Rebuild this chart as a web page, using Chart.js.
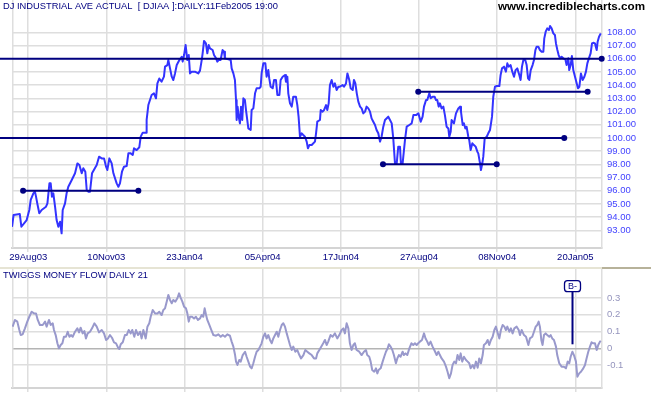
<!DOCTYPE html>
<html lang="en">
<head>
<meta charset="UTF-8">
<title>DJ Industrial Ave - Twiggs Money Flow</title>
<script src="https://cdn.jsdelivr.net/npm/chart.js"></script>
<style>
  body { margin: 0; background: #fff; }
  #wrap { position: relative; width: 651px; height: 395px; overflow: hidden; }
  canvas { position: absolute; left: 0; }
  #priceChart { top: 0; }
  #flowChart { top: 267px; }
</style>
</head>
<body>
<div id="wrap">
  <canvas id="priceChart" width="651" height="267"></canvas>
  <canvas id="flowChart" width="651" height="128"></canvas>
</div>
<script>
// x values are trading days counted from mid Aug 2003
const chartTitle = 'DJ INDUSTRIAL AVE ACTUAL  [ DJIAA ]:DAILY:11Feb2005 19:00';
const siteName = 'www.incrediblecharts.com';
const flowTitle = 'TWIGGS MONEY FLOW DAILY 21';

const tickDays = [10.4, 60.5, 110.6, 160.7, 210.8, 260.9, 311, 361.1];
const tickLabels = ['29Aug03', '10Nov03', '23Jan04', '05Apr04', '17Jun04', '27Aug04', '08Nov04', '20Jan05'];
const priceTicks = [93, 94, 95, 96, 97, 98, 99, 100, 101, 102, 103, 104, 105, 106, 107, 108];
const flowTicks = [-0.1, 0, 0.1, 0.2, 0.3];

// [day, close]
const priceSeries = [
  [0, 93.27], [1, 94.16], [5, 94.23], [6, 93.27], [9.4, 93.78], [11.1, 94.54], [12, 95.3], [13.7, 95.8],
  [14.7, 95.93], [15.4, 95.55], [16.2, 95.04], [17.5, 94.29], [19, 94.54], [21.8, 94.79], [22.7, 95.04],
  [24, 96.56], [24.8, 96.56], [25.6, 95.55], [26.5, 95.8], [27.6, 94.79], [28.6, 93.78], [29.7, 93.27],
  [30.8, 93.65], [31.8, 92.77], [32.5, 94.54], [34, 95.04], [35, 95.8], [36.1, 96.3], [38.3, 96.81],
  [40.4, 97.32], [41.9, 98.07], [43.2, 97.95], [44.7, 97.32], [45.7, 97.7], [47, 97.44], [47.9, 96.05],
  [49, 95.93], [50, 95.93], [51.3, 97.32], [54.3, 97.95], [55.8, 98.58], [57.5, 98.45], [59, 98.45],
  [60.3, 97.82], [61.1, 97.57], [62.4, 98.45], [63.9, 98.07], [65, 97.32], [67.1, 96.56], [68.2, 96.3],
  [69.2, 96.56], [70.5, 97.44], [71.8, 97.82], [73.5, 97.87], [74.6, 98.83], [76.1, 98.83], [77.4, 98.71],
  [78.2, 99.21], [79.9, 99.08], [81.6, 99.29], [82.5, 100.1], [83.8, 100.4], [85.9, 100.4], [86.3, 101.36],
  [87.4, 102.49], [89.5, 103.25], [91, 103.38], [92.3, 103.0], [93.2, 104.13], [94.4, 104.5], [95.9, 104.26],
  [97.4, 104.64], [98.1, 105.4], [99.6, 105.52], [100.2, 105.9], [101.3, 105.27], [102.4, 104.64],
  [103.4, 104.39], [104.5, 104.89], [105.6, 105.52], [107.3, 105.9], [108.8, 106.15], [109.4, 105.78],
  [110.3, 106.28], [111.3, 107.04], [112.4, 105.9], [113.3, 106.28], [114.1, 104.89], [115.2, 105.02],
  [117.3, 105.02], [119.4, 104.89], [120.5, 105.1], [121.6, 105.9], [122.2, 106.41], [123.1, 107.35],
  [124.3, 107.16], [125.2, 106.41], [126.1, 107.04], [126.9, 106.79], [128.6, 106.66], [129.5, 106.28],
  [130.8, 106.03], [131.6, 105.78], [132.5, 105.9], [133.7, 105.9], [135, 106.66], [135.9, 106.53],
  [136.5, 106.03], [138.7, 105.95], [140.2, 105.9], [140.8, 105.27], [141.9, 104.89], [142.9, 104.39],
  [143.6, 102.87], [144, 101.36], [144.6, 102.37], [145.3, 101.61], [146.1, 101.1], [146.8, 102.37],
  [147.6, 101.36], [148.3, 103.0], [149.3, 102.87], [150, 102.11], [150.8, 101.36], [151.5, 100.72],
  [153, 100.6], [153.6, 102.11], [154.7, 102.24], [155.8, 103.38], [156.8, 103.76], [158.5, 103.76],
  [159.4, 103.88], [160, 104.89], [161.1, 105.65], [162.4, 105.65], [163.2, 104.64], [164.3, 105.14],
  [164.9, 104.51], [165.8, 103.88], [167.1, 103.76], [168, 104.39], [169.2, 104.39], [170.1, 103.25],
  [171.4, 103.25], [172.2, 104.39], [173.5, 104.64], [175, 104.77], [175.6, 104.26], [176.5, 104.64],
  [177.1, 103.38], [178.2, 102.62], [179.3, 102.37], [180.3, 103.12], [182, 103.12], [182.9, 102.49],
  [183.7, 101.61], [184.6, 100.09], [185.7, 100.35], [186.7, 100.22], [187.8, 100.09], [188.9, 99.72],
  [189.7, 99.21], [190.6, 99.46], [192.1, 99.46], [194.2, 99.72], [194.9, 100.35], [195.7, 101.23],
  [197.4, 101.36], [197.9, 102.11], [199.1, 101.99], [200, 102.11], [201.3, 102.49], [202.1, 102.11],
  [203, 102.62], [203.8, 104.01], [204.9, 104.39], [206, 103.88], [207, 104.13], [208.1, 103.63],
  [209.2, 103.88], [210.2, 103.88], [211.9, 104.01], [212.8, 103.88], [214.1, 104.13], [215, 104.89],
  [216.2, 104.39], [217.1, 103.76], [218.4, 103.63], [219.2, 104.39], [220.1, 104.13], [221, 103.38],
  [222, 102.75], [223.1, 102.37], [224.1, 102.24], [225.2, 101.86], [226.3, 101.99], [227.3, 102.37],
  [228.4, 102.24], [229.5, 101.99], [230.5, 101.48], [231.6, 101.23], [232.7, 100.98], [233.7, 100.6],
  [234.8, 100.35], [235.9, 99.72], [236.9, 100.09], [238, 100.85], [239.1, 101.36], [241.2, 101.61],
  [242.3, 101.36], [243.4, 101.1], [244.4, 99.97], [245.5, 98.07], [246.6, 98.07], [247.6, 99.34],
  [248.7, 99.34], [249.3, 98.07], [250.4, 98.07], [251.9, 99.84], [253, 100.85], [254.7, 100.98],
  [256.2, 101.1], [257.3, 101.73], [259, 101.73], [260.5, 101.86], [262, 101.23], [263.2, 101.61],
  [264.1, 102.37], [265.4, 102.87], [266.2, 102.87], [267.5, 103.38], [268.4, 103.0], [269.6, 103.12],
  [270.9, 103.12], [271.8, 102.87], [272.6, 102.87], [273.5, 102.37], [274.3, 102.62], [275.4, 102.24],
  [276.5, 102.37], [277.5, 101.73], [278.6, 100.85], [279.7, 100.72], [280.3, 100.09], [281.2, 100.47],
  [281.8, 101.36], [283.3, 101.1], [284.6, 101.86], [286.1, 102.24], [287.2, 102.37], [287.8, 101.99],
  [288.9, 100.98], [289.7, 101.1], [290.6, 100.72], [291.4, 100.85], [292.5, 100.09], [293.1, 99.84],
  [294, 99.08], [295.1, 99.59], [296.1, 99.46], [297.2, 99.34], [298.3, 98.96], [298.9, 98.83],
  [300, 98.07], [300.6, 97.57], [301.5, 98.07], [302.1, 98.58], [303, 99.97], [304.3, 100.09],
  [305.3, 100.35], [306.4, 100.6], [307.7, 101.61], [308.5, 103.12], [309.6, 103.88], [310.7, 103.93],
  [312.4, 103.93], [313.2, 104.77], [314.1, 105.27], [315.4, 105.4], [316.6, 105.02], [317.5, 105.65],
  [318.4, 105.4], [319.6, 105.52], [320.7, 105.02], [321.8, 104.64], [322.8, 105.14], [323.9, 105.27],
  [325.2, 104.77], [326, 104.39], [326.9, 105.4], [327.8, 105.9], [329, 105.9], [329.9, 105.52],
  [330.8, 104.51], [331.6, 104.39], [332.5, 105.14], [333.7, 105.52], [334.6, 105.9], [335.5, 106.66],
  [336.3, 106.91], [337.4, 106.91], [338.4, 106.66], [339.5, 106.53], [340.6, 106.53], [341.2, 107.54],
  [342.1, 108.05], [343.1, 108.3], [344.2, 108.17], [344.9, 108.48], [345.9, 108.3], [347, 107.92],
  [348, 107.8], [348.7, 107.16], [349.6, 106.66], [350.4, 106.28], [351.3, 106.03], [352.3, 106.15],
  [353.4, 106.03], [354.7, 105.95], [355.5, 105.52], [356.6, 106.03], [357.2, 105.14], [358.1, 105.52],
  [358.9, 106.2], [359.8, 105.14], [360.9, 104.64], [362, 104.13], [362.8, 103.76], [363.7, 103.88],
  [364.7, 104.89], [365.8, 104.39], [366.9, 104.64], [367.9, 105.02], [368.8, 105.65], [369.8, 106.03],
  [370.9, 106.41], [371.8, 107.16], [372.6, 107.21], [373.7, 107.16], [374.8, 106.66], [375.4, 107.29],
  [376.3, 107.67], [377.4, 107.92]
];

// [day, money flow]
const flowSeries = [
  [0.4, 0.129], [1.9, 0.169], [3.4, 0.159], [4.7, 0.109], [5.6, 0.079], [6.8, 0.083], [8.3, 0.119],
  [9.8, 0.159], [11.1, 0.188], [12.6, 0.218], [14.1, 0.208], [15.4, 0.208], [16.5, 0.169], [17.9, 0.139],
  [19.7, 0.139], [21.2, 0.159], [22.2, 0.129], [23.7, 0.169], [24.8, 0.139], [26.1, 0.149], [26.9, 0.109],
  [28, 0.079], [29.1, 0.03], [30.1, 0.0], [31.2, 0.02], [32.3, 0.03], [33.3, 0.069], [34.6, 0.069],
  [35.7, 0.099], [36.8, 0.069], [37.8, 0.079], [38.9, 0.069], [40.4, 0.099], [41.9, 0.119], [43, 0.095],
  [44, 0.123], [45.3, 0.089], [46.4, 0.103], [47.4, 0.059], [48.5, 0.089], [50, 0.099], [51.3, 0.119],
  [52.8, 0.149], [54.3, 0.129], [55.8, 0.095], [57.5, 0.109], [59, 0.089], [60.3, 0.05], [61.5, 0.059],
  [62.8, 0.079], [64.1, 0.063], [65.4, 0.036], [66.7, 0.03], [68, 0.004], [68.8, -0.004], [69.7, 0.024],
  [71, 0.036], [72.4, 0.079], [73.5, 0.079], [74.8, 0.109], [76.1, 0.089], [77.1, 0.109], [78.4, 0.069],
  [79.5, 0.109], [80.8, 0.079], [82.1, 0.099], [83.1, 0.059], [84.2, 0.109], [85.7, 0.059], [86.8, 0.129],
  [88, 0.149], [88.9, 0.188], [90.2, 0.228], [91.7, 0.208], [93.2, 0.208], [94.4, 0.218], [95.9, 0.198],
  [97, 0.228], [98.1, 0.238], [99.2, 0.278], [100.2, 0.318], [101.3, 0.288], [102.4, 0.268], [103.4, 0.288],
  [104.7, 0.278], [106, 0.298], [107.1, 0.327], [108.1, 0.302], [109.2, 0.278], [110.3, 0.248],
  [111.5, 0.238], [112.4, 0.208], [113.3, 0.159], [114.1, 0.188], [115.4, 0.188], [116.7, 0.178],
  [117.9, 0.188], [119.2, 0.169], [120.5, 0.178], [121.6, 0.198], [122.6, 0.188], [123.5, 0.238],
  [124.4, 0.198], [125.2, 0.169], [126.5, 0.139], [127.8, 0.109], [129.1, 0.079], [130.8, 0.075],
  [132.3, 0.083], [133.8, 0.069], [135.1, 0.079], [136.5, 0.069], [138, 0.083], [139.7, 0.075],
  [140.8, 0.04], [141.9, 0.01], [143, -0.04], [143.6, -0.079], [144.5, -0.099], [145.7, -0.069],
  [146.6, -0.079], [147.9, -0.04], [149.4, -0.02], [150.4, -0.05], [151.5, -0.079], [152.6, -0.109],
  [153.6, -0.119], [154.7, -0.089], [155.8, -0.05], [156.8, -0.02], [157.9, -0.01], [159, 0.01],
  [160, 0.03], [161.1, 0.069], [162.2, 0.089], [163.2, 0.059], [164.3, 0.079], [165.4, 0.05],
  [166.5, 0.03], [167.5, 0.059], [168.6, 0.079], [169.7, 0.099], [170.7, 0.069], [171.8, 0.109],
  [172.9, 0.139], [173.9, 0.149], [175, 0.129], [176.1, 0.089], [177.3, 0.05], [178.2, 0.02],
  [179.3, -0.01], [180.3, 0.01], [181.6, -0.02], [182.9, -0.01], [184.2, -0.04], [185.3, -0.06],
  [186.8, -0.04], [188, -0.01], [189.3, -0.02], [190.6, -0.03], [192.1, -0.04], [193.6, -0.06],
  [194.9, -0.06], [195.7, -0.03], [197, -0.01], [199.5, 0.03], [200.6, 0.05], [201.7, 0.02],
  [202.7, 0.04], [204.2, 0.079], [205.5, 0.069], [207, 0.089], [208.5, 0.059], [209.8, 0.079],
  [211.3, 0.109], [212.4, 0.119], [213.4, 0.089], [214.5, 0.149], [215.6, 0.119], [216.6, 0.03],
  [217.7, -0.01], [218.8, 0.02], [219.8, 0.03], [220.9, -0.01], [222.6, -0.02], [224.1, -0.04],
  [225.6, -0.02], [226.9, -0.01], [227.7, -0.04], [229, -0.05], [229.9, -0.079], [230.9, -0.129],
  [232.2, -0.139], [233.3, -0.119], [234.2, -0.149], [235, -0.129], [236.3, -0.119], [237.6, -0.079],
  [238.6, -0.05], [239.7, -0.02], [240.8, 0.0], [241.6, 0.024], [242.7, 0.01], [243.8, -0.01],
  [244.8, -0.04], [246.1, -0.089], [247, -0.06], [248, -0.04], [249.1, -0.05], [250.4, -0.02],
  [251.2, -0.04], [252.3, -0.03], [253.4, -0.04], [254.7, 0.0], [256, 0.03], [257.2, 0.02], [258.3, 0.03],
  [259.4, 0.02], [260.4, 0.03], [261.5, 0.04], [262.8, 0.05], [264.1, 0.089], [265.1, 0.059],
  [266.2, 0.04], [267.1, 0.02], [268.3, 0.04], [269.6, 0.01], [270.7, -0.01], [272.2, -0.04],
  [273.3, -0.02], [274.3, -0.04], [275.4, -0.06], [276.9, -0.079], [278.2, -0.109], [279.2, -0.139],
  [280.3, -0.178], [281.4, -0.149], [282.4, -0.099], [283.5, -0.079], [284.6, -0.089], [285.6, -0.04],
  [286.7, -0.069], [287.6, -0.03], [288.6, -0.079], [289.7, -0.05], [291, -0.069], [292.1, -0.079],
  [293.1, -0.089], [294, -0.119], [295.3, -0.099], [296.3, -0.119], [297.4, -0.079], [298.5, -0.115],
  [299.5, -0.06], [300.6, -0.089], [301.7, -0.04], [302.5, 0.02], [303.8, 0.03], [304.9, 0.05],
  [305.9, 0.02], [307, 0.05], [308.1, 0.069], [309.2, 0.109], [310.2, 0.129], [311.1, 0.099],
  [312.4, 0.059], [313.4, 0.109], [314.5, 0.139], [315.6, 0.129], [316.6, 0.109], [317.5, 0.129],
  [318.8, 0.099], [319.8, 0.119], [320.9, 0.089], [322, 0.119], [323.5, 0.129], [324.8, 0.109],
  [325.6, 0.079], [326.7, 0.109], [328.2, 0.079], [329.5, 0.069], [331, 0.02], [332, 0.059],
  [333.5, 0.069], [334.6, 0.099], [335.7, 0.129], [336.7, 0.139], [337.6, 0.159], [338.4, 0.129],
  [339.3, 0.05], [340.1, 0.02], [341, 0.079], [342.1, 0.089], [343.1, 0.079], [344.4, 0.069],
  [345.3, 0.079], [346.3, 0.059], [347.4, 0.05], [348.7, 0.01], [349.5, -0.04], [350.8, -0.089],
  [352.3, -0.109], [353.8, -0.109], [355.1, -0.119], [356.2, -0.079], [357.2, -0.089], [358.1, -0.05],
  [359.2, -0.02], [360.2, -0.04], [361.5, -0.079], [362.4, -0.169], [363.6, -0.149], [364.7, -0.139],
  [366.2, -0.119], [367.3, -0.099], [368.3, -0.06], [369.4, -0.02], [370.5, 0.01], [371.5, 0.036],
  [372.6, 0.03], [373.7, 0.03], [374.8, -0.01], [375.8, 0.02], [376.9, 0.04], [377.5, 0.044]
];

// hand drawn trend lines: start day, end day, level, dot at start
const trendStart = [-7.7, -7.7, 7.1, 237.8, 260.4];
const trendEnd = [378, 354, 81, 310.7, 369];
const trendLevel = [106, 100, 96, 98, 103.5];
const trendStartDot = [false, false, true, true, true];

// signal flag on the money flow panel
const signalDay = 358.8;
const signalValue = 0.024;
const signalBoxLevel = 0.37;
const signalLabel = 'B-';

const dayMin = 0, dayMax = 378.2;
const FONT = '"Liberation Sans", Arial, Helvetica, sans-serif';
const GRID = '#dedede';
const NAVY = '#000080';

function fitText(ctx, text, x, y, width) {
  const w = ctx.measureText(text).width;
  ctx.save();
  ctx.translate(x, y);
  ctx.scale(width / w, 1);
  ctx.fillText(text, 0, 0);
  ctx.restore();
}

function leftFrame(chart) {
  const { ctx, chartArea: a } = chart;
  ctx.save();
  ctx.strokeStyle = GRID;
  ctx.lineWidth = 1.5;
  ctx.beginPath();
  ctx.moveTo(a.left + 0.75, a.top);
  ctx.lineTo(a.left + 0.75, a.bottom);
  ctx.stroke();
  ctx.restore();
}

function dayAxis(showLabels, height) {
  return {
    type: 'linear', min: dayMin, max: dayMax, bounds: 'data',
    afterBuildTicks: s => { s.ticks = tickDays.map(v => ({ value: v })); },
    afterFit: s => { s.height = height; s.paddingLeft = 0; s.paddingRight = 0; },
    grid: { color: GRID, lineWidth: 1.5, tickLength: 4 },
    border: { color: '#d4d4d4', width: 2 },
    ticks: {
      display: showLabels, autoSkip: false, maxRotation: 0, padding: 0,
      color: NAVY, font: { family: FONT, size: 9.5 },
      callback: (v, i) => tickLabels[i]
    }
  };
}

const priceDecor = {
  id: 'priceDecor',
  beforeDatasetsDraw(chart) { leftFrame(chart); },
  afterDraw(chart) {
    const ctx = chart.ctx;
    ctx.save();
    ctx.textAlign = 'left';
    ctx.textBaseline = 'middle';
    ctx.fillStyle = NAVY;
    ctx.font = '9.5px ' + FONT;
    fitText(ctx, chartTitle, 3, 6, 275);
    ctx.fillStyle = '#000';
    ctx.font = 'bold 11px ' + FONT;
    fitText(ctx, siteName, 498, 7, 147);
    ctx.restore();
  }
};

const flowDecor = {
  id: 'flowDecor',
  beforeDatasetsDraw(chart) { leftFrame(chart); },
  afterDraw(chart) {
    const { ctx, chartArea: a, scales: { x, y } } = chart;
    ctx.save();
    ctx.fillStyle = '#e6e4d4';
    ctx.fillRect(0, 0, a.right, 2);
    ctx.fillStyle = '#b7b29a';
    ctx.fillRect(a.right, 0, chart.width - a.right, 2);

    ctx.textAlign = 'left';
    ctx.textBaseline = 'middle';
    ctx.fillStyle = NAVY;
    ctx.font = '9.5px ' + FONT;
    fitText(ctx, flowTitle, 3, 8, 145);

    const sx = Math.round(x.getPixelForValue(signalDay)) + 0.5;
    const by = y.getPixelForValue(signalBoxLevel);
    ctx.strokeStyle = NAVY;
    ctx.lineWidth = 2;
    ctx.beginPath();
    ctx.moveTo(sx, by + 5);
    ctx.lineTo(sx, y.getPixelForValue(signalValue));
    ctx.stroke();
    ctx.beginPath();
    if (ctx.roundRect) ctx.roundRect(sx - 8, by - 5.5, 16, 11, 3);
    else ctx.rect(sx - 8, by - 5.5, 16, 11);
    ctx.fillStyle = '#fff';
    ctx.fill();
    ctx.lineWidth = 1.3;
    ctx.stroke();
    ctx.fillStyle = NAVY;
    ctx.textAlign = 'center';
    ctx.font = '9px ' + FONT;
    ctx.fillText(signalLabel, sx, by + 0.5);
    ctx.restore();
  }
};

const trendSets = trendLevel.map((lvl, i) => ({
  data: [{ x: trendStart[i], y: lvl }, { x: trendEnd[i], y: lvl }],
  borderColor: NAVY,
  borderWidth: 2,
  pointRadius: [trendStartDot[i] ? 3 : 0, 3],
  pointBackgroundColor: NAVY,
  pointBorderWidth: 0,
  clip: false
}));

new Chart(document.getElementById('priceChart'), {
  type: 'line',
  data: {
    datasets: [
      ...trendSets,
      {
        data: priceSeries.map(p => ({ x: p[0], y: p[1] })),
        borderColor: '#3333ff',
        borderWidth: 2,
        borderJoinStyle: 'round',
        pointRadius: 0,
        tension: 0
      }
    ]
  },
  options: {
    responsive: false,
    animation: false,
    devicePixelRatio: 1,
    layout: { autoPadding: false, padding: { left: 12, top: 0, right: 0, bottom: 0 } },
    plugins: { legend: { display: false }, tooltip: { enabled: false } },
    scales: {
      x: dayAxis(true, 19),
      y: {
        position: 'right', min: 91.66, max: 110.45,
        afterBuildTicks: s => { s.ticks = priceTicks.map(v => ({ value: v })); },
        afterFit: s => { s.width = 49; s.paddingTop = 0; s.paddingBottom = 0; },
        grid: { color: GRID, lineWidth: 1.5, drawTicks: false },
        border: { color: GRID, width: 1.5 },
        ticks: {
          padding: 5, color: '#4343ff', font: { family: FONT, size: 9.5 },
          callback: v => v.toFixed(2)
        }
      }
    }
  },
  plugins: [priceDecor]
});

new Chart(document.getElementById('flowChart'), {
  type: 'line',
  data: {
    datasets: [{
      data: flowSeries.map(p => ({ x: p[0], y: p[1] })),
      borderColor: '#9999cc',
      borderWidth: 2,
      borderJoinStyle: 'round',
      pointRadius: 0,
      tension: 0
    }]
  },
  options: {
    responsive: false,
    animation: false,
    devicePixelRatio: 1,
    layout: { autoPadding: false, padding: { left: 12, top: 0, right: 0, bottom: 0 } },
    plugins: { legend: { display: false }, tooltip: { enabled: false } },
    scales: {
      x: dayAxis(false, 7),
      y: {
        position: 'right', min: -0.236, max: 0.484,
        afterBuildTicks: s => { s.ticks = flowTicks.map(v => ({ value: v })); },
        afterFit: s => { s.width = 49; s.paddingTop = 0; s.paddingBottom = 0; },
        grid: {
          color: c => (c.tick && c.tick.value === 0 ? '#b4b4b4' : GRID),
          lineWidth: 1.5, drawTicks: false
        },
        border: { color: GRID, width: 1.5 },
        ticks: {
          padding: 5, color: '#9494bd', font: { family: FONT, size: 9.5 },
          callback: v => (v === 0 ? '0' : v.toFixed(1))
        }
      }
    }
  },
  plugins: [flowDecor]
});
</script>
</body>
</html>
